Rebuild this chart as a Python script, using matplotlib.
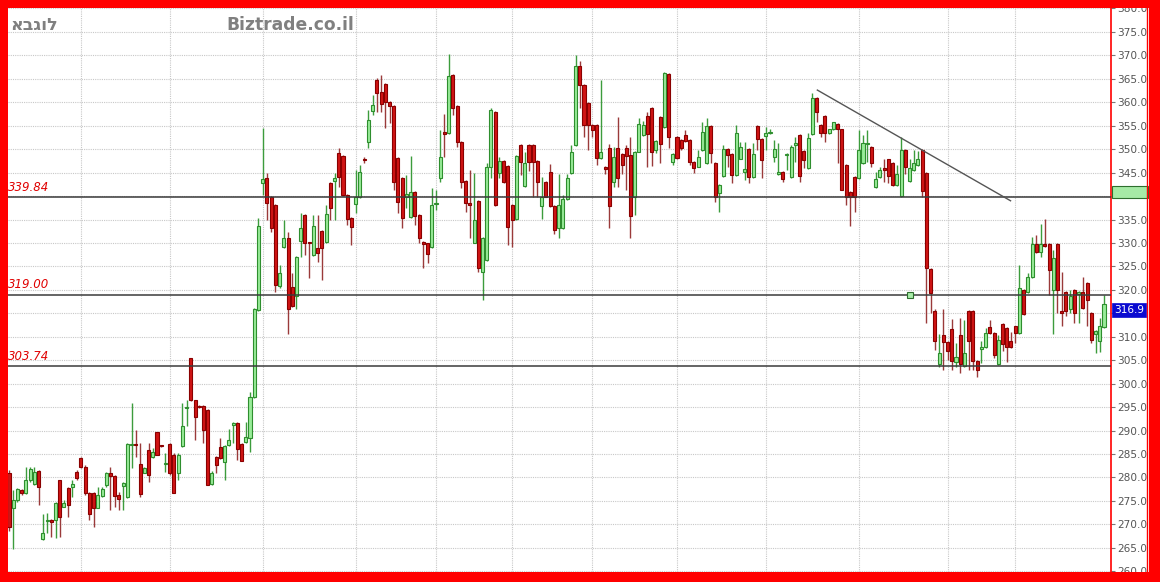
import numpy as np
import matplotlib
matplotlib.use("Agg")
import matplotlib.pyplot as plt
from matplotlib.patches import Rectangle

# daily candles, oldest first
opens = [
    281.0, 273.4, 275.2, 277.3, 276.6, 279.4, 278.6, 281.4, 266.8, 270.8,
    271.0, 270.9, 279.4, 273.8, 277.7, 277.9, 281.2, 284.1, 282.3, 276.6,
    276.6, 273.6, 276.1, 278.4, 280.9, 280.4, 276.3, 278.2, 275.8, 287.0,
    287.1, 282.8, 281.0, 285.9, 284.4, 289.6, 286.9, 282.8, 287.1, 284.8,
    281.0, 286.7, 294.8, 305.4, 296.5, 295.3, 295.3, 294.3, 278.6, 284.4,
    286.6, 283.4, 286.9, 291.1, 291.6, 287.1, 287.6, 288.4, 297.2, 315.7,
    342.7, 343.8, 339.7, 338.1, 320.8, 329.1, 331.0, 320.7, 318.6, 330.5,
    336.0, 330.2, 327.4, 328.9, 332.6, 330.3, 342.7, 343.3, 349.1, 348.6,
    340.2, 335.3, 338.3, 339.7, 347.8, 351.6, 358.2, 364.8, 362.1, 364.0,
    360.1, 359.2, 348.1, 343.9, 339.8, 335.6, 340.8, 335.9, 330.3, 329.9,
    329.2, 338.4, 343.9, 353.6, 353.4, 365.8, 359.3, 351.6, 343.2, 338.5,
    330.1, 339.0, 323.9, 326.4, 346.1, 358.0, 344.9, 347.5, 346.5, 338.1,
    335.1, 350.9, 342.2, 350.9, 350.9, 347.5, 337.8, 343.1, 345.2, 337.9,
    333.1, 333.1, 339.3, 345.0, 350.9, 367.7, 363.7, 359.9, 355.2, 355.2,
    348.1, 346.3, 350.2, 342.9, 350.3, 349.0, 350.2, 348.8, 339.9, 349.5,
    353.0, 357.1, 358.7, 349.8, 356.9, 354.8, 366.0, 347.3, 352.7, 352.0,
    353.0, 352.0, 347.3, 346.3, 349.8, 347.1, 354.9, 347.1, 340.7, 344.3,
    350.0, 349.0, 344.5, 348.0, 345.2, 350.0, 344.0, 354.9, 352.1, 352.8,
    353.4, 348.3, 344.8, 345.2, 348.7, 344.0, 350.9, 353.0, 349.7, 345.9,
    353.2, 361.0, 355.2, 357.1, 353.4, 354.2, 355.4, 354.2, 346.6, 340.9,
    344.1, 343.8, 347.1, 351.0, 350.4, 341.9, 344.0, 345.9, 347.8, 347.0,
    342.4, 340.0, 349.8, 343.3, 345.6, 346.6, 349.8, 345.0, 324.4, 315.4,
    304.2, 310.4, 308.8, 311.6, 304.7, 310.4, 303.8, 315.4, 315.6, 304.9,
    307.3, 307.8, 312.0, 310.9, 304.2, 312.7, 311.8, 309.2, 312.2, 310.9,
    320.0, 319.6, 322.7, 329.8, 328.0, 329.8, 329.8, 320.0, 329.8, 315.6,
    319.6, 315.9, 320.0, 319.1, 319.6, 321.4, 315.0, 310.7, 309.0, 312.0,
]
highs = [
    281.5, 277.3, 277.7, 277.6, 282.3, 282.3, 282.3, 281.6, 272.3, 272.5,
    271.2, 274.8, 279.4, 275.2, 278.0, 279.4, 281.6, 284.3, 282.6, 277.0,
    277.0, 278.0, 278.0, 281.2, 282.3, 280.5, 277.0, 279.1, 287.3, 295.8,
    290.1, 287.3, 282.3, 287.3, 286.2, 289.8, 287.0, 285.2, 287.3, 285.2,
    285.2, 295.8, 296.5, 305.5, 296.6, 295.5, 295.5, 294.5, 281.4, 284.6,
    288.4, 287.0, 290.3, 291.9, 291.8, 287.3, 291.9, 298.3, 316.2, 335.3,
    354.5, 344.9, 340.0, 338.3, 325.3, 335.0, 332.4, 323.5, 327.3, 336.3,
    336.2, 330.3, 336.0, 336.0, 332.8, 338.1, 342.9, 344.9, 350.2, 348.8,
    340.4, 335.5, 345.6, 346.6, 348.4, 358.4, 361.6, 365.1, 365.8, 364.2,
    360.3, 359.4, 348.3, 344.1, 344.6, 348.6, 341.0, 336.1, 330.5, 330.1,
    341.8, 341.3, 354.1, 357.6, 370.2, 366.0, 359.5, 351.8, 343.4, 345.6,
    344.9, 339.2, 331.3, 347.0, 358.7, 358.2, 348.4, 347.7, 346.7, 338.3,
    348.8, 351.1, 349.5, 351.1, 351.1, 347.7, 344.1, 343.3, 346.8, 338.1,
    344.8, 340.2, 344.8, 350.9, 370.1, 368.7, 363.9, 360.1, 355.4, 355.4,
    364.8, 346.5, 351.2, 350.5, 356.9, 349.2, 350.9, 352.5, 349.7, 356.6,
    356.0, 358.0, 358.9, 352.0, 357.1, 366.5, 366.2, 349.2, 352.9, 352.2,
    354.1, 352.2, 347.5, 349.8, 355.9, 356.6, 355.1, 347.3, 342.6, 350.9,
    350.2, 349.2, 355.2, 351.6, 351.6, 350.2, 351.3, 355.1, 352.3, 354.8,
    354.4, 351.9, 351.3, 345.4, 349.2, 350.9, 352.7, 353.2, 349.9, 353.4,
    362.0, 361.2, 355.4, 357.3, 354.4, 355.9, 355.6, 354.4, 346.8, 341.1,
    344.3, 354.1, 353.0, 354.1, 350.6, 345.2, 346.1, 347.8, 348.0, 347.2,
    346.6, 352.5, 350.0, 348.0, 349.8, 349.7, 350.0, 345.2, 324.6, 315.9,
    310.7, 315.9, 309.0, 313.7, 308.6, 313.9, 313.6, 315.7, 315.8, 305.1,
    309.0, 311.8, 313.6, 311.1, 310.4, 313.0, 312.0, 311.1, 312.4, 325.3,
    320.2, 323.5, 331.2, 331.7, 334.0, 335.1, 330.0, 328.4, 330.0, 323.9,
    319.8, 320.0, 320.2, 319.8, 322.8, 321.6, 315.2, 311.5, 313.9, 318.9,
]
lows = [
    268.5, 264.7, 274.8, 276.3, 276.4, 279.0, 278.4, 274.1, 266.7, 268.1,
    267.4, 267.0, 267.4, 273.7, 271.6, 275.9, 279.4, 282.0, 276.3, 270.9,
    269.5, 273.4, 275.9, 278.0, 273.1, 273.8, 273.1, 273.1, 275.6, 282.0,
    284.4, 275.9, 280.9, 279.1, 284.1, 284.8, 286.6, 281.2, 280.5, 276.6,
    279.4, 286.5, 291.0, 296.3, 288.0, 294.9, 287.3, 278.3, 278.4, 280.9,
    284.0, 279.5, 286.7, 287.3, 283.8, 283.5, 287.3, 285.5, 297.0, 315.5,
    340.2, 334.9, 332.4, 319.6, 320.5, 329.0, 310.6, 316.4, 316.0, 327.1,
    327.4, 322.5, 327.2, 326.0, 322.1, 330.1, 334.9, 334.9, 342.0, 340.0,
    333.8, 329.6, 336.3, 339.5, 347.0, 350.2, 357.3, 358.0, 358.0, 354.6,
    355.5, 341.3, 336.3, 333.1, 337.4, 335.4, 333.8, 329.9, 324.7, 325.7,
    329.0, 337.0, 343.1, 348.4, 353.2, 357.3, 350.5, 341.8, 336.7, 331.1,
    329.9, 323.9, 317.8, 326.2, 343.8, 337.8, 343.8, 342.8, 329.6, 329.2,
    334.9, 344.5, 342.0, 345.3, 339.9, 339.9, 335.1, 339.7, 337.7, 331.9,
    331.0, 332.9, 339.1, 344.8, 350.7, 358.7, 352.7, 349.8, 352.7, 346.6,
    347.9, 344.7, 333.1, 342.0, 342.0, 344.7, 341.3, 331.0, 336.0, 349.3,
    352.8, 346.1, 346.4, 349.1, 347.0, 354.6, 350.2, 346.6, 347.9, 349.9,
    351.6, 346.6, 345.0, 346.1, 349.6, 346.9, 347.0, 338.8, 336.7, 344.1,
    346.3, 342.7, 344.3, 347.8, 343.4, 342.7, 343.8, 349.9, 343.8, 349.8,
    353.2, 347.3, 344.6, 343.1, 345.6, 343.8, 347.3, 343.1, 345.9, 345.7,
    353.0, 355.9, 352.7, 351.6, 353.2, 354.0, 347.0, 341.2, 338.1, 333.6,
    336.7, 343.6, 346.9, 347.3, 346.1, 341.7, 343.8, 343.1, 342.7, 342.2,
    342.2, 339.8, 344.8, 343.1, 345.4, 346.4, 339.9, 312.9, 315.0, 307.2,
    303.6, 302.9, 305.1, 302.9, 303.6, 302.2, 303.6, 302.9, 302.9, 301.4,
    304.4, 307.6, 310.7, 305.4, 304.0, 307.0, 304.7, 307.7, 308.6, 310.7,
    314.7, 319.4, 322.5, 327.8, 327.1, 329.2, 318.9, 310.7, 315.0, 312.2,
    314.4, 315.0, 312.9, 312.9, 315.9, 312.2, 308.6, 306.5, 306.8, 311.8,
]
closes = [
    269.5, 275.2, 277.5, 276.6, 279.4, 281.9, 281.2, 277.9, 268.1, 271.0,
    270.6, 274.5, 271.6, 274.5, 274.1, 278.6, 279.8, 282.3, 276.6, 272.3,
    273.4, 276.3, 277.5, 280.9, 280.4, 276.1, 275.4, 278.9, 287.1, 287.1,
    287.0, 276.5, 282.0, 280.5, 285.5, 284.9, 286.8, 283.0, 280.9, 276.8,
    284.8, 291.0, 295.0, 296.5, 293.0, 295.0, 290.1, 278.4, 280.9, 282.7,
    284.1, 286.7, 288.0, 291.7, 286.0, 283.6, 288.6, 297.2, 315.9, 333.6,
    343.6, 338.5, 333.1, 321.0, 323.5, 331.0, 315.9, 316.6, 327.1, 333.3,
    330.0, 330.1, 333.7, 327.8, 328.9, 336.1, 337.4, 343.9, 344.1, 340.2,
    335.1, 333.5, 339.7, 345.2, 347.6, 356.2, 359.4, 361.9, 359.6, 360.1,
    359.2, 343.1, 338.8, 335.4, 340.4, 340.8, 335.8, 331.1, 329.7, 327.6,
    338.2, 338.6, 348.4, 353.2, 365.7, 358.7, 351.5, 343.1, 338.5, 338.0,
    334.9, 324.7, 331.1, 346.1, 358.4, 338.2, 347.5, 343.1, 333.5, 334.9,
    348.6, 347.3, 347.0, 347.2, 347.3, 342.9, 339.9, 339.9, 337.9, 332.8,
    338.1, 339.3, 343.8, 349.5, 367.7, 363.7, 355.2, 355.2, 354.1, 348.1,
    349.5, 345.7, 337.9, 348.4, 343.8, 346.6, 348.6, 335.8, 349.5, 355.4,
    355.2, 353.2, 349.5, 351.8, 351.2, 366.2, 352.5, 349.0, 348.1, 350.2,
    351.8, 347.3, 345.9, 348.4, 353.7, 354.9, 349.1, 339.9, 342.4, 350.0,
    348.8, 344.5, 353.4, 350.4, 345.7, 344.1, 349.0, 352.1, 347.7, 353.5,
    353.7, 350.0, 345.2, 343.6, 349.0, 350.4, 351.4, 344.3, 347.6, 352.3,
    361.0, 358.0, 353.5, 353.5, 354.2, 355.7, 354.2, 341.4, 339.9, 339.9,
    339.9, 349.8, 351.3, 351.3, 347.0, 343.6, 345.6, 345.6, 344.3, 342.4,
    344.7, 349.8, 346.1, 345.9, 347.0, 347.8, 341.0, 324.6, 319.3, 309.0,
    306.5, 308.8, 307.0, 304.9, 305.6, 304.2, 306.5, 309.0, 304.9, 302.9,
    307.9, 310.9, 310.9, 306.1, 309.4, 308.5, 307.9, 307.9, 310.9, 320.3,
    314.9, 322.8, 329.8, 328.0, 329.8, 329.4, 324.2, 326.7, 320.0, 315.0,
    315.4, 318.6, 315.0, 319.6, 316.1, 317.9, 309.3, 311.3, 312.2, 316.9,
]

month_starts = [17, 38, 60, 82, 101, 119, 138, 158, 179, 201, 222, 238]
levels = [339.84, 319.00, 303.74]
level_labels = ["339.84", "319.00", "303.74"]
trend_x = [191.2, 236.9]
trend_y = [362.6, 339.0]
handle_x, handle_y = 213, 318.9
last_price = 316.9
hidden_ticks = [340.0, 315.0]  # covered by the price tags on the scale

W, H = 1160, 582
fig = plt.figure(figsize=(W / 100, H / 100), dpi=100)
fig.patch.set_facecolor("white")

ax = fig.add_axes([8 / W, 10 / H, (1111 - 8) / W, (574 - 10) / H])
ax.set_facecolor("white")

o = np.array(opens)
h = np.array(highs)
l = np.array(lows)
c = np.array(closes)
x = np.arange(len(c))
up = c >= o

# wicks
ax.vlines(x[up], l[up], h[up], color="#3c9c3c", lw=1.0, zorder=2)
ax.vlines(x[~up], l[~up], h[~up], color="#9a3a3a", lw=1.0, zorder=2)

# bodies
body_lo = np.minimum(o, c)
body_h = np.maximum(np.abs(c - o), 0.12)
ax.bar(x[up], body_h[up], bottom=body_lo[up], width=0.72,
       color="#98ec98", edgecolor="#2e8e2e", linewidth=0.8, zorder=3)
ax.bar(x[~up], body_h[~up], bottom=body_lo[~up], width=0.72,
       color="#d01515", edgecolor="#8a0000", linewidth=0.8, zorder=3)

# support / resistance lines
for lv, txt in zip(levels, level_labels):
    ax.axhline(lv, color="#3a3a3a", lw=1.1, zorder=4)
    ax.text(0.0, lv + 0.7, txt, transform=ax.get_yaxis_transform(),
            color="#e00000", fontsize=8.5, fontstyle="italic",
            ha="left", va="bottom", zorder=5)

ax.plot(trend_x, trend_y, color="#555555", lw=1.0, zorder=4)
ax.plot([handle_x], [handle_y], marker="s", ms=5, mfc="#a8eca8",
        mec="#2e6e2e", mew=0.8, zorder=5)

for m in month_starts:
    ax.axvline(m, color="#c8c8c8", lw=0.8, ls=(0, (1, 1)), zorder=0)

ax.set_xlim(-0.24, 260.66)
ax.set_ylim(259.85, 380.1)
yt = np.arange(260, 381, 5)
ax.set_yticks(yt)
ax.set_yticklabels(["" if v in hidden_ticks else f"{v:.1f}" for v in yt])
ax.yaxis.tick_right()
ax.tick_params(axis="y", length=3, width=0.8, color="#777777",
               labelcolor="#555555", labelsize=7.6, pad=1.5)
ax.set_xticks([])
ax.grid(axis="y", color="#c8c8c8", lw=0.8, ls=(0, (1, 1)), zorder=0)
for side in ["top", "bottom", "left"]:
    ax.spines[side].set_visible(False)
ax.spines["right"].set_color("#ff0000")
ax.spines["right"].set_linewidth(1.2)

# price tags on the scale
fig.add_artist(Rectangle((1112 / W, (582 - 198) / H), 36 / W, 12 / H,
                         transform=fig.transFigure, facecolor="#a6eaa6",
                         edgecolor="#2e6e2e", lw=0.8, zorder=6))
fig.add_artist(Rectangle((1112 / W, (582 - 317) / H), 34 / W, 14 / H,
                         transform=fig.transFigure, facecolor="#0a0ad0",
                         edgecolor="#0a0ad0", lw=0.5, zorder=6))
fig.text(1129 / W, (582 - 310) / H, f"{last_price:.1f}", color="white",
         fontsize=7.6, ha="center", va="center", zorder=7)

# red frame
red = "#ff0000"
for (x0, y0, w0, h0) in [(0, 0, 8, H), (0, H - 8, W, 8), (0, 0, W, 10),
                         (1149, 0, 11, H)]:
    fig.add_artist(Rectangle((x0 / W, y0 / H), w0 / W, h0 / H,
                             transform=fig.transFigure, facecolor=red,
                             edgecolor="none", zorder=8))
fig.add_artist(plt.Line2D([1147 / W, 1147 / W], [0, 1], color=red, lw=1.0,
                          transform=fig.transFigure, zorder=8))

fig.text(10 / W, (582 - 25) / H, "אבגול", color="#808080", fontsize=12.5,
         fontweight="bold", ha="left", va="center", zorder=9)
fig.text(226 / W, (582 - 25) / H, "Biztrade.co.il", color="#808080",
         fontsize=12.3, fontweight="bold", ha="left", va="center", zorder=9)

fig.savefig("out.png", dpi=100)
